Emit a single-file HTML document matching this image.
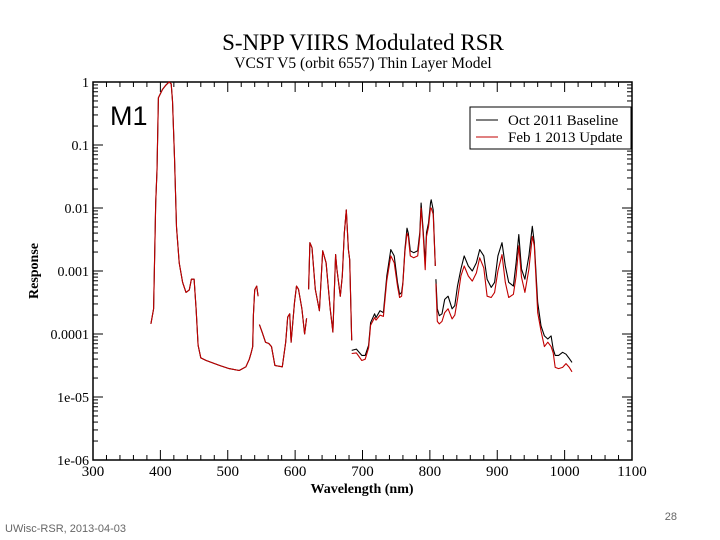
<!DOCTYPE html>
<html><head><meta charset="utf-8"><style>
html,body{margin:0;padding:0;background:#fff;}
svg{display:block;font-family:"Liberation Serif",serif;}
</style></head><body>
<svg id="chart" width="720" height="540" viewBox="0 0 720 540">
<text x="363" y="50" font-size="23" text-anchor="middle">S-NPP VIIRS Modulated RSR</text>
<text x="363" y="68" font-size="15.5" text-anchor="middle">VCST V5 (orbit 6557) Thin Layer Model</text>
<g id="axes"></g>
<g id="series"></g>
<text x="110" y="125" font-size="27" font-family="Liberation Sans, sans-serif">M1</text>
<g>
<rect x="470" y="107" width="161" height="42" fill="#fff" stroke="#000" stroke-width="1"/>
<line x1="476" y1="120" x2="498" y2="120" stroke="#000"/>
<text x="508" y="125" font-size="15">Oct 2011 Baseline</text>
<line x1="476" y1="137" x2="498" y2="137" stroke="#c00000"/>
<text x="508" y="142" font-size="15">Feb 1 2013 Update</text>
</g>
<text transform="translate(38,271) rotate(-90)" font-size="14" font-weight="bold" text-anchor="middle">Response</text>
<text x="362" y="493" font-size="14" font-weight="bold" text-anchor="middle">Wavelength (nm)</text>
<text x="5" y="532" font-size="11" fill="#666" font-family="Liberation Sans, sans-serif">UWisc-RSR, 2013-04-03</text>
<text x="677" y="520" font-size="11" fill="#666" text-anchor="end" font-family="Liberation Sans, sans-serif">28</text>
</svg>
<script>
const xTicks=[300,400,500,600,700,800,900,1000,1100];
const yTickExp=[0,-1,-2,-3,-4,-5,-6];
const yTickLabels=["1","0.1","0.01","0.001","0.0001","1e-05","1e-06"];
// wavelength segments (nm) and log10(response) for baseline and update
const wlSeg1=[386,390,393,395,397,403,408,413,416,418,421,424,428,433,438,443,446,450,453,456,460,468,488,502,517,527,532,535,537,538,540,543,545];
const baseSeg1=[-3.84,-3.6,-1.92,-1.4,-0.25,-0.12,-0.05,0,-0.03,-0.3,-1.2,-2.3,-2.87,-3.18,-3.34,-3.3,-3.13,-3.13,-3.6,-4.18,-4.38,-4.42,-4.5,-4.55,-4.58,-4.52,-4.4,-4.29,-4.2,-3.7,-3.3,-3.24,-3.4];
const updSeg1=[-3.84,-3.6,-1.92,-1.4,-0.25,-0.12,-0.05,0,-0.03,-0.3,-1.2,-2.3,-2.87,-3.18,-3.34,-3.3,-3.13,-3.13,-3.6,-4.18,-4.38,-4.42,-4.5,-4.55,-4.58,-4.52,-4.4,-4.29,-4.2,-3.7,-3.3,-3.24,-3.4];
const wlSeg2=[547,551,556,561,565,570,581,586,589,592,594,599,602,605,610,614,617];
const baseSeg2=[-3.85,-3.97,-4.13,-4.15,-4.2,-4.5,-4.52,-4.13,-3.73,-3.68,-4.13,-3.5,-3.24,-3.29,-3.6,-4.0,-3.75];
const updSeg2=[-3.85,-3.97,-4.13,-4.15,-4.2,-4.5,-4.52,-4.13,-3.73,-3.68,-4.13,-3.5,-3.24,-3.29,-3.6,-4.0,-3.75];
const wlSeg3=[620,622,625,630,636,641,646,652,656,660,662,667,670,673,676,679,681,684];
const baseSeg3=[-3.29,-2.55,-2.63,-3.29,-3.63,-2.68,-2.87,-3.6,-3.97,-2.74,-2.97,-3.4,-3.08,-2.4,-2.03,-2.66,-2.82,-4.1];
const updSeg3=[-3.29,-2.55,-2.63,-3.29,-3.63,-2.68,-2.87,-3.6,-3.97,-2.74,-2.97,-3.4,-3.08,-2.4,-2.03,-2.66,-2.82,-4.1];
const wlSeg4=[684,691,699,704,709,712,718,720,726,731,736,742,747,752,755,758,760,763,766,768,771,776,782,785,787,790,793,795,798,801,802,805,808];
const baseSeg4=[-4.26,-4.24,-4.34,-4.34,-4.18,-3.82,-3.68,-3.74,-3.63,-3.66,-3.08,-2.66,-2.76,-3.18,-3.37,-3.34,-3.18,-2.66,-2.32,-2.4,-2.68,-2.71,-2.68,-2.39,-1.92,-2.34,-2.87,-2.39,-2.24,-1.92,-1.87,-2.03,-2.92];
const updSeg4=[-4.31,-4.3,-4.42,-4.4,-4.22,-3.86,-3.74,-3.78,-3.7,-3.72,-3.15,-2.76,-2.87,-3.24,-3.42,-3.4,-3.2,-2.7,-2.4,-2.45,-2.76,-2.79,-2.76,-2.45,-2.0,-2.4,-2.98,-2.45,-2.3,-2.0,-2.0,-2.1,-2.92];
const wlSeg5=[809,811,814,818,822,827,833,837,841,846,851,857,863,869,874,880,885,891,896,901,907,912,917,924,928,932,936,941,947,952,955,960,965,970,975,980,983,986,991,997,1002,1007,1011];
const baseSeg5=[-3.13,-3.6,-3.71,-3.68,-3.45,-3.4,-3.6,-3.55,-3.24,-2.97,-2.76,-2.92,-3.0,-2.87,-2.66,-2.76,-3.13,-3.26,-3.18,-2.76,-2.55,-2.92,-3.18,-3.24,-2.87,-2.42,-2.97,-3.13,-2.76,-2.29,-2.55,-3.5,-3.87,-4.03,-4.08,-4.03,-4.24,-4.34,-4.34,-4.29,-4.32,-4.39,-4.45];
const updSeg5=[-3.2,-3.8,-3.84,-3.8,-3.66,-3.6,-3.76,-3.7,-3.45,-3.08,-2.92,-3.08,-3.16,-3.03,-2.79,-2.95,-3.4,-3.42,-3.34,-3.0,-2.74,-3.18,-3.42,-3.37,-3.08,-2.6,-3.1,-3.34,-2.97,-2.45,-2.6,-3.66,-3.95,-4.2,-4.13,-4.2,-4.3,-4.53,-4.55,-4.53,-4.47,-4.53,-4.6];

const X0=93,X1=632,Y0=82,Y1=460;
function xs(nm){return X0+(nm-300)/800*(X1-X0);}
function ys(e){return Y0+(0-e)/6*(Y1-Y0);}
const NS="http://www.w3.org/2000/svg";
const axes=document.getElementById('axes');
const series=document.getElementById('series');
function mk(tag,attrs,parent){const e=document.createElementNS(NS,tag);for(const k in attrs)e.setAttribute(k,attrs[k]);parent.appendChild(e);return e;}

const frame=mk('rect',{x:X0,y:Y0,width:X1-X0,height:Y1-Y0,fill:'none',stroke:'#000','stroke-width':1.5},axes);



for(let v=300;v<=1100;v+=20){
  const major=(v%100===0);const L=major?10:5;const x=xs(v);
  const t1=mk('line',{x1:x,y1:Y1,x2:x,y2:Y1-L,stroke:'#000'},axes);
  
  
  const t2=mk('line',{x1:x,y1:Y0,x2:x,y2:Y0+L,stroke:'#000'},axes);
  
  
}
xTicks.forEach(v=>{
  const t=mk('text',{x:xs(v),y:Y1+16,'font-size':15,'text-anchor':'middle'},axes);
  t.textContent=String(v);
  
  
});
yTickExp.forEach((e,i)=>{
  const y=ys(e);
  const a=mk('line',{x1:X0,y1:y,x2:X0+10,y2:y,stroke:'#000'},axes);
  
  
  const b=mk('line',{x1:X1,y1:y,x2:X1-10,y2:y,stroke:'#000'},axes);
  
  
  const t=mk('text',{x:X0-4,y:y+5,'font-size':14,'text-anchor':'end'},axes);
  t.textContent=yTickLabels[i];
  
  
  if(e>-6){for(let m=2;m<=9;m++){
    const ym=ys(e-1+Math.log10(m));
    const c=mk('line',{x1:X0,y1:ym,x2:X0+5,y2:ym,stroke:'#000'},axes);
    
    
    const d=mk('line',{x1:X1,y1:ym,x2:X1-5,y2:ym,stroke:'#000'},axes);
    
    
  }}
});

function draw(wl,vals,color,name){
  const d=wl.map((w,i)=>(i?'L':'M')+xs(w).toFixed(1)+' '+ys(vals[i]).toFixed(1)).join(' ');
  const p=mk('path',{d:d,fill:'none',stroke:color,'stroke-width':1.1,'stroke-linejoin':'round'},series);
  
  
}
const segs=[[wlSeg1,baseSeg1,updSeg1],[wlSeg2,baseSeg2,updSeg2],[wlSeg3,baseSeg3,updSeg3],[wlSeg4,baseSeg4,updSeg4],[wlSeg5,baseSeg5,updSeg5]];
segs.forEach(s=>draw(s[0],s[1],'#000','baseline-line'));
segs.forEach(s=>draw(s[0],s[2],'#c00000','update-line'));
</script>
</body></html>
